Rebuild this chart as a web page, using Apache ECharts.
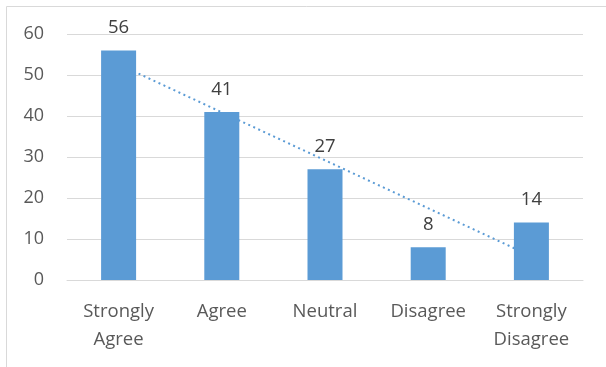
<!DOCTYPE html>
<html><head><meta charset="utf-8">
<script src="https://cdn.jsdelivr.net/npm/echarts@6/dist/echarts.min.js"></script>
<style>html,body{margin:0;padding:0;background:#fff}#c{width:606px;height:367px}</style>
</head><body><div id="c"></div>
<script>
const categories = ['Strongly\nAgree', 'Agree', 'Neutral', 'Disagree', 'Strongly\nDisagree'];
const values = [56, 41, 27, 8, 14];
const trendValues = [52.6, 5.8]; // linear trendline at first and last category
const yTicks = [0, 10, 20, 30, 40, 50, 60];

const font = 'Open Sans';
const chart = echarts.init(document.getElementById('c'), null, {renderer: 'canvas'});
chart.setOption({
  animation: false,
  grid: {left: 67, right: 23, top: 34, bottom: 87},
  graphic: [{
    type: 'polyline', shape: {points: [[6.5, 367], [6.5, 6.5], [606, 6.5]]},
    style: {stroke: '#d9d9d9', lineWidth: 1, fill: null}, silent: true
  }],
  xAxis: {
    type: 'category', data: categories,
    axisLine: {lineStyle: {color: '#d9d9d9'}}, axisTick: {show: false},
    axisLabel: {color: '#595959', fontFamily: font, fontSize: 18.5, margin: 18, lineHeight: 28, interval: 0}
  },
  yAxis: {
    type: 'value', min: yTicks[0], max: yTicks[yTicks.length - 1], interval: 10,
    axisLine: {show: false}, axisTick: {show: false},
    splitLine: {lineStyle: {color: '#d9d9d9'}},
    axisLabel: {color: '#595959', fontFamily: font, fontSize: 18, margin: 23}
  },
  series: [{
    type: 'line', z: 1, data: [[0, trendValues[0]], [4, trendValues[1]]],
    symbol: 'none', lineStyle: {color: '#5b9bd5', width: 2, type: [2, 3.5]}
  }, {
    type: 'bar', z: 3, data: values, barWidth: 35,
    itemStyle: {color: '#5b9bd5'},
    label: {show: true, position: 'top', distance: 13, color: '#404040', fontFamily: font, fontSize: 18.5}
  }]
});
</script></body></html>
